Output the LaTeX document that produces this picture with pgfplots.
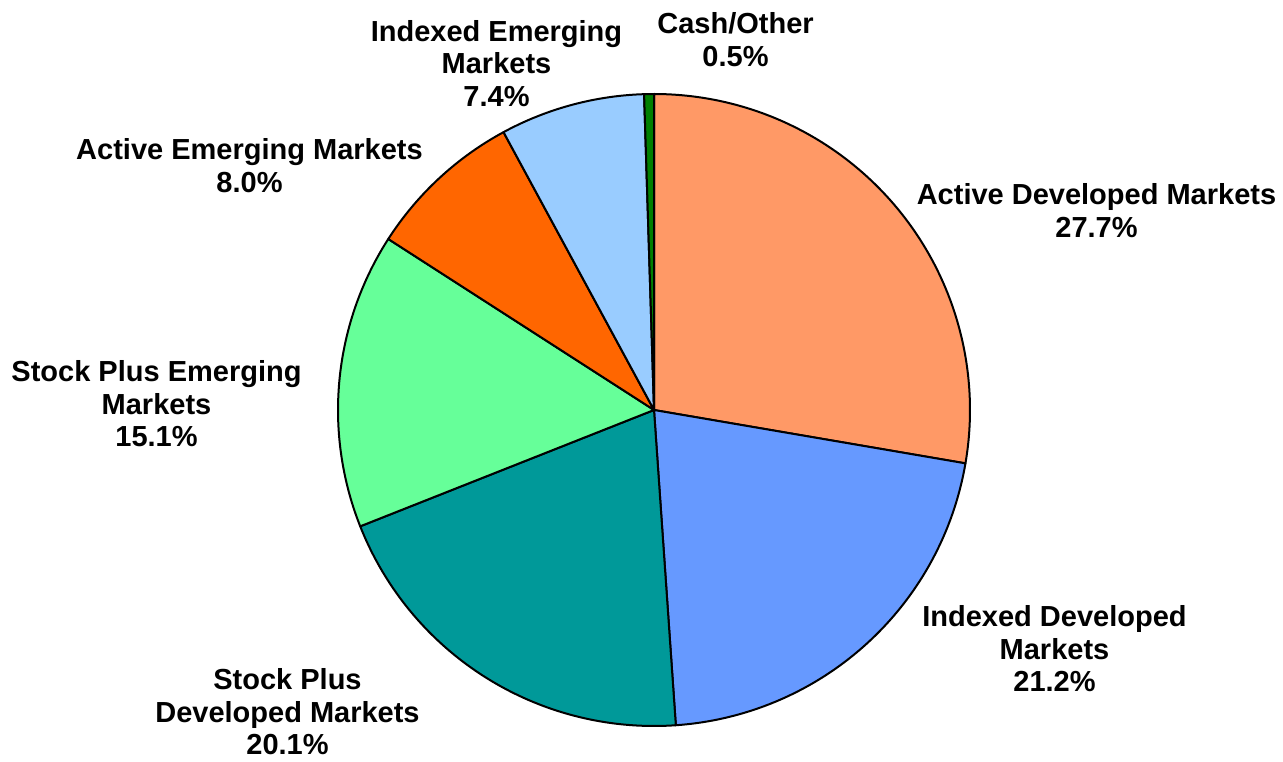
\documentclass[border=0pt]{standalone}
\usepackage{pgfplots}
\pgfplotsset{compat=1.18}
\usepackage{fontspec}
\setmainfont{Liberation Sans}
\definecolor{cAD}{HTML}{FF9966}
\definecolor{cID}{HTML}{6699FF}
\definecolor{cSPD}{HTML}{009999}
\definecolor{cSPE}{HTML}{66FF99}
\definecolor{cAE}{HTML}{FF6600}
\definecolor{cIE}{HTML}{99CCFF}
\definecolor{cCash}{HTML}{008000}
\begin{document}
\begin{tikzpicture}
\begin{axis}[
  scale only axis, width=641.5pt, height=380.5pt,
  xmin=-654, xmax=629, ymin=-351, ymax=410,
  axis lines=none, clip=false,
  every axis plot/.append style={draw=black, line width=1pt, line join=round},
]
% shares (%): 27.7, 21.2, 20.1, 15.1, 8.0, 7.4, 0.5 ; angle = 90 - 3.6*cumulative
\addplot[fill=cAD, domain=90:-9.72, samples=100] ({316*cos(x)},{316*sin(x)}) -- (axis cs:0,0) -- cycle;
\addplot[fill=cID, domain=-9.72:-86.04, samples=80] ({316*cos(x)},{316*sin(x)}) -- (axis cs:0,0) -- cycle;
\addplot[fill=cSPD, domain=-86.04:-158.40, samples=80] ({316*cos(x)},{316*sin(x)}) -- (axis cs:0,0) -- cycle;
\addplot[fill=cSPE, domain=-158.40:-212.76, samples=60] ({316*cos(x)},{316*sin(x)}) -- (axis cs:0,0) -- cycle;
\addplot[fill=cAE, domain=-212.76:-241.56, samples=40] ({316*cos(x)},{316*sin(x)}) -- (axis cs:0,0) -- cycle;
\addplot[fill=cIE, domain=-241.56:-268.20, samples=40] ({316*cos(x)},{316*sin(x)}) -- (axis cs:0,0) -- cycle;
\addplot[fill=cCash, domain=-268.20:-270.00, samples=5] ({316*cos(x)},{316*sin(x)}) -- (axis cs:0,0) -- cycle;
\tikzset{lab/.style={align=center, anchor=base, font=\fontsize{14.5}{16.25}\selectfont\bfseries, inner sep=0pt}}
\node[lab] at (axis cs:-157.5,303.5) {Indexed Emerging\\Markets\\7.4\%};
\node[lab] at (axis cs:81.5,343.5) {Cash/Other\\0.5\%};
\node[lab] at (axis cs:442.5,172.5) {Active Developed Markets\\27.7\%};
\node[lab] at (axis cs:-404.5,217.5) {Active Emerging Markets\\8.0\%};
\node[lab] at (axis cs:-497.5,-36.5) {Stock Plus Emerging\\Markets\\15.1\%};
\node[lab] at (axis cs:400.5,-281.5) {Indexed Developed\\Markets\\21.2\%};
\node[lab] at (axis cs:-366.5,-344.5) {Stock Plus\\Developed Markets\\20.1\%};
\end{axis}
\pgfresetboundingbox
\path (current axis.south west) rectangle (current axis.north east);
\end{tikzpicture}
\end{document}
